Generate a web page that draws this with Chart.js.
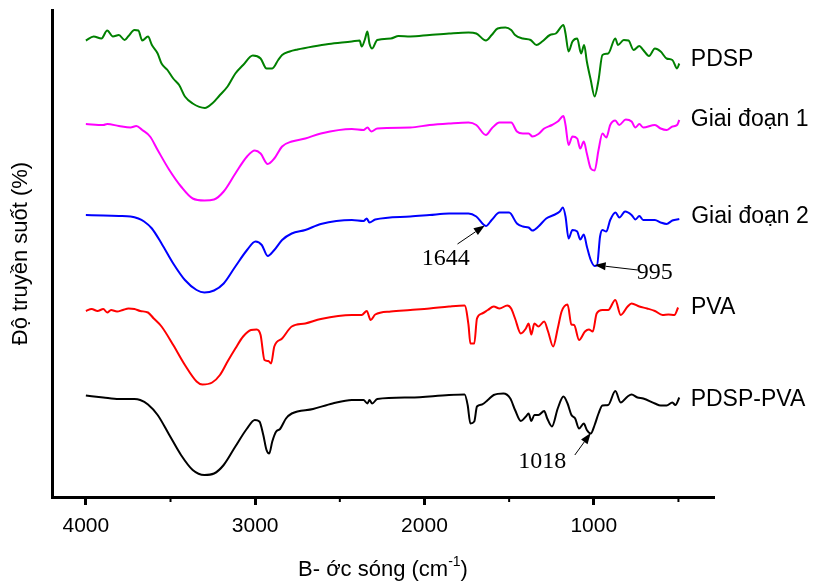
<!DOCTYPE html>
<html>
<head>
<meta charset="utf-8">
<script src="https://cdn.jsdelivr.net/npm/chart.js@4.4.1/dist/chart.umd.min.js"></script>
<style>
  body { margin: 0; background: #fff; }
  #wrap { width: 817px; height: 583px; position: relative; }
</style>
</head>
<body>
<div id="wrap"><canvas id="ftirChart"></canvas></div>
<script>
// wavenumber (cm-1) and offset transmittance
const pdspWn = [4000, 3954, 3908, 3874, 3840, 3805, 3771, 3748, 3713, 3690, 3667, 3633, 3610, 3576, 3553, 3518, 3484, 3449, 3415, 3369,
    3297, 3254, 3208, 3163, 3117, 3071, 3014, 2968, 2933, 2899, 2864, 2841, 2796, 2750, 2658, 2566, 2429, 2383, 2371, 2353,
    2337, 2325, 2309, 2279, 2199, 2153, 2084, 1970, 1855, 1740, 1694, 1637, 1603, 1568, 1522, 1488, 1465, 1419, 1373, 1339,
    1305, 1259, 1224, 1179, 1167, 1149, 1126, 1098, 1075, 1057, 1041, 1018, 995, 972, 949, 915, 873, 857, 823, 795,
    765, 731, 708, 674, 639, 605, 570, 536, 508, 495];
const pdspT = [91.3, 92.1, 91.7, 93.3, 92.1, 92.4, 91.4, 92.2, 93.4, 93.3, 91.3, 92.1, 90.4, 88.7, 86.7, 85.4, 83.7, 82.4, 80.1, 78.7,
    77.8, 78.7, 80.4, 82.1, 84.7, 86.4, 88.3, 87.7, 85.7, 85.7, 87.4, 88.4, 89.1, 89.5, 90.1, 90.6, 91.1, 91.3, 90.1, 91.4,
    93.1, 90.7, 89.7, 91.4, 91.7, 92.2, 92.1, 92.4, 92.7, 92.9, 92.7, 91.3, 92.4, 93.7, 93.9, 93.4, 92.4, 91.7, 91.4, 90.4,
    91.1, 92.4, 92.7, 94.4, 92.7, 89.1, 91.1, 91.7, 88.7, 90.4, 87.1, 83.4, 80.1, 83.4, 88.4, 88.7, 91.7, 90.4, 91.4, 91.3,
    89.4, 90.2, 89.4, 88.2, 89.7, 89.1, 87.7, 87.4, 85.7, 86.7];

const gd1Wn = [4000, 3897, 3874, 3805, 3736, 3702, 3667, 3621, 3576, 3507, 3438, 3369, 3300, 3243, 3186, 3117, 3048, 3002, 2968, 2926,
    2887, 2841, 2784, 2704, 2612, 2429, 2360, 2337, 2314, 2279, 2084, 1970, 1855, 1740, 1694, 1637, 1603, 1557, 1488, 1454,
    1419, 1385, 1362, 1327, 1293, 1247, 1213, 1179, 1167, 1149, 1126, 1098, 1080, 1059, 1041, 1018, 995, 972, 949, 926,
    903, 873, 850, 811, 777, 754, 731, 708, 639, 605, 570, 536, 508, 495];
const gd1T = [74.6, 74.4, 74.6, 74.2, 73.9, 74.2, 73.4, 72.1, 69.4, 65.4, 62.1, 59.7, 59.3, 59.5, 61.1, 64.7, 68.1, 69.3, 68.7, 66.6,
    67.7, 70.1, 71.1, 71.7, 72.7, 73.6, 73.4, 73.9, 73.1, 73.7, 73.9, 74.4, 74.7, 74.9, 74.4, 72.4, 73.7, 74.9, 74.9, 73.1,
    72.7, 72.7, 72.1, 72.6, 73.7, 74.4, 75.1, 76.2, 74.4, 70.4, 72.1, 71.7, 69.7, 71.1, 68.7, 65.7, 65.3, 69.4, 72.7, 71.9,
    74.4, 75.3, 74.4, 75.5, 75.1, 73.9, 74.6, 73.9, 74.4, 73.7, 73.4, 74.1, 74.4, 75.4];

const gd2Wn = [4000, 3897, 3805, 3736, 3690, 3656, 3610, 3553, 3484, 3415, 3346, 3300, 3243, 3186, 3117, 3048, 2998, 2961, 2926, 2887,
    2841, 2784, 2704, 2612, 2429, 2360, 2341, 2325, 2291, 2084, 1970, 1855, 1740, 1694, 1637, 1603, 1557, 1500, 1454, 1419,
    1385, 1362, 1327, 1281, 1236, 1201, 1183, 1167, 1149, 1126, 1098, 1080, 1059, 1041, 1018, 995, 981, 963, 949, 926,
    903, 872, 849, 815, 777, 754, 731, 708, 639, 605, 570, 536, 495];
const gd2T = [56.4, 56.3, 56.2, 56.1, 55.7, 55.1, 53.7, 50.7, 46.7, 43.4, 41.4, 40.9, 41.3, 42.7, 46.1, 49.4, 51.1, 50.4, 48.2, 49.4,
    51.4, 52.7, 53.4, 54.6, 55.4, 55.2, 55.7, 54.9, 55.5, 56.1, 56.4, 56.7, 56.7, 56.1, 54.2, 55.4, 56.9, 56.9, 54.7, 54.1,
    53.9, 53.3, 54.1, 55.7, 56.4, 57.1, 57.9, 56.1, 51.7, 53.4, 53.1, 51.5, 52.5, 50.1, 47.4, 46.2, 46.3, 52.1, 53.4, 53.1,
    55.4, 56.9, 55.9, 57.1, 56.4, 55.5, 56.2, 55.4, 55.4, 54.9, 54.6, 55.3, 55.6];

const pvaWn = [4000, 3966, 3931, 3897, 3874, 3851, 3816, 3782, 3748, 3713, 3679, 3633, 3599, 3553, 3484, 3415, 3346, 3312, 3254, 3208,
    3163, 3117, 3071, 3025, 2991, 2968, 2945, 2922, 2906, 2887, 2841, 2784, 2704, 2612, 2429, 2371, 2341, 2318, 2291, 2199,
    2084, 1970, 1855, 1763, 1740, 1729, 1706, 1690, 1660, 1626, 1591, 1557, 1511, 1488, 1465, 1431, 1401, 1385, 1369, 1351,
    1327, 1293, 1270, 1240, 1213, 1190, 1155, 1132, 1116, 1087, 1052, 1029, 1006, 983, 949, 915, 873, 841, 800, 777,
    731, 685, 639, 594, 559, 524, 502];
const pvaT = [37.2, 37.6, 37.2, 37.6, 36.9, 37.4, 37.1, 37.4, 37.7, 37.6, 37.2, 36.9, 35.7, 34.1, 30.4, 26.4, 23.1, 22.5, 22.9, 24.4,
    27.1, 29.7, 32.1, 33.4, 33.5, 32.4, 27.4, 27.2, 26.7, 30.1, 31.7, 34.1, 34.7, 35.6, 36.4, 36.4, 37.2, 35.4, 36.5, 37.1,
    37.4, 37.7, 38.1, 38.3, 34.4, 30.7, 30.7, 35.7, 36.7, 37.4, 38.1, 37.7, 38.3, 37.7, 35.7, 32.7, 33.7, 34.7, 32.5, 34.7,
    34.1, 35.1, 33.1, 30.1, 33.7, 37.1, 38.5, 34.5, 34.4, 31.4, 33.1, 33.5, 33.1, 36.7, 37.4, 37.4, 39.4, 36.4, 38.1, 38.7,
    38.1, 37.7, 37.2, 36.4, 36.5, 36.4, 37.9];

const blendWn = [4000, 3897, 3805, 3713, 3679, 3633, 3576, 3507, 3438, 3369, 3300, 3243, 3186, 3117, 3048, 3002, 2975, 2952, 2933, 2917,
    2899, 2876, 2853, 2818, 2784, 2658, 2543, 2429, 2360, 2337, 2325, 2309, 2279, 2084, 1855, 1763, 1745, 1729, 1706, 1690,
    1660, 1626, 1591, 1534, 1493, 1465, 1431, 1401, 1385, 1369, 1351, 1327, 1293, 1275, 1247, 1213, 1179, 1155, 1132, 1110,
    1087, 1059, 1041, 1018, 995, 972, 949, 915, 873, 841, 800, 777, 742, 708, 639, 605, 570, 536, 518, 495];
const blendT = [20.3, 19.9, 19.6, 19.6, 19.4, 18.5, 16.4, 12.4, 8.4, 5.4, 4.4, 4.7, 6.4, 10.1, 13.7, 15.4, 15.1, 12.4, 9.4, 8.7,
    11.1, 13.1, 13.6, 15.7, 16.7, 17.6, 18.7, 19.4, 19.4, 18.7, 19.4, 18.7, 19.6, 19.9, 20.4, 20.5, 18.4, 14.7, 15.1, 18.1,
    18.5, 19.4, 20.4, 20.7, 19.7, 17.4, 15.2, 16.1, 16.7, 15.2, 16.4, 16.4, 17.2, 15.7, 14.1, 17.7, 20.1, 18.7, 16.4, 15.7,
    13.7, 14.7, 13.4, 12.7, 14.4, 16.7, 18.3, 18.4, 21.2, 18.9, 20.1, 20.5, 19.9, 19.7, 18.7, 18.3, 18.3, 18.9, 18.4, 19.9];

const seriesNames = ['PDSP', 'Giai đoạn 1', 'Giai đoạn 2', 'PVA', 'PDSP-PVA'];
const seriesColors = ['#008000', '#ff00ff', '#0000ff', '#ff0000', '#000000'];
const xTicks = [4000, 3500, 3000, 2500, 2000, 1500, 1000, 500];

const seriesData = [
    [pdspWn, pdspT], [gd1Wn, gd1T], [gd2Wn, gd2T], [pvaWn, pvaT], [blendWn, blendT]
];

// names drawn beside the right end of each trace (wavenumber, level)
const nameSpots = [[427, 87.4], [427, 75.4], [425, 56], [426, 37.8], [428, 19.4]];

// peak callouts: text, arrow tip, arrow tail, text centre (all in data units)
const callouts = [
    { text: '1644', tip: [1644, 54.3], tail: [1805, 50.6], at: [1875, 47.6] },
    { text: '995', tip: [995, 46.4], tail: [740, 45.4], at: [640, 44.8] },
    { text: '1018', tip: [1018, 12.8], tail: [1112, 8.4], at: [1305, 7.0] }
];

const sans = "'Liberation Sans', Arial, sans-serif";
const serif = "'Liberation Serif', 'Times New Roman', serif";

const decorPlugin = {
    id: 'decor',
    afterDraw(chart) {
        const ctx = chart.ctx;
        const xs = chart.scales.x, ys = chart.scales.y;
        const area = chart.chartArea;
        ctx.save();

        // short minor ticks
        ctx.strokeStyle = '#000';
        ctx.lineWidth = 2;
        xTicks.filter(v => v % 1000 !== 0).forEach(v => {
            const px = xs.getPixelForValue(v);
            ctx.beginPath();
            ctx.moveTo(px, area.bottom);
            ctx.lineTo(px, area.bottom + 5);
            ctx.stroke();
        });

        // series names
        ctx.font = '23px ' + sans;
        ctx.fillStyle = '#000';
        ctx.textBaseline = 'middle';
        ctx.textAlign = 'left';
        seriesNames.forEach((name, i) => {
            ctx.fillText(name, xs.getPixelForValue(nameSpots[i][0]), ys.getPixelForValue(nameSpots[i][1]));
        });

        // callouts with arrows
        ctx.font = '24px ' + serif;
        ctx.textAlign = 'center';
        callouts.forEach(c => {
            const tx = xs.getPixelForValue(c.tip[0]), ty = ys.getPixelForValue(c.tip[1]);
            const sx = xs.getPixelForValue(c.tail[0]), sy = ys.getPixelForValue(c.tail[1]);
            const ang = Math.atan2(ty - sy, tx - sx);
            const hl = 11, hw = 4;
            const bx = tx - hl * Math.cos(ang), by = ty - hl * Math.sin(ang);
            ctx.lineWidth = 1;
            ctx.beginPath();
            ctx.moveTo(sx, sy);
            ctx.lineTo(bx, by);
            ctx.stroke();
            ctx.beginPath();
            ctx.moveTo(tx, ty);
            ctx.lineTo(bx + hw * Math.sin(ang), by - hw * Math.cos(ang));
            ctx.lineTo(bx - hw * Math.sin(ang), by + hw * Math.cos(ang));
            ctx.closePath();
            ctx.fill();
            ctx.fillText(c.text, xs.getPixelForValue(c.at[0]), ys.getPixelForValue(c.at[1]));
        });

        // x axis title with superscript
        const cx = (area.left + area.right) / 2;
        const cy = 570;
        const big = '22px ' + sans, small = '14px ' + sans;
        const p1 = 'B- ớc sóng (cm', p2 = '-1', p3 = ')';
        ctx.font = big;
        const w1 = ctx.measureText(p1).width, w3 = ctx.measureText(p3).width;
        ctx.font = small;
        const w2 = ctx.measureText(p2).width;
        let x0 = cx - (w1 + w2 + w3) / 2;
        ctx.textAlign = 'left';
        ctx.textBaseline = 'middle';
        ctx.font = big;
        ctx.fillText(p1, x0, cy);
        ctx.font = small;
        ctx.fillText(p2, x0 + w1, cy - 8);
        ctx.font = big;
        ctx.fillText(p3, x0 + w1 + w2, cy);
        ctx.restore();
    }
};

new Chart(document.getElementById('ftirChart').getContext('2d'), {
    type: 'line',
    data: {
        datasets: seriesData.map((s, i) => ({
            label: seriesNames[i],
            data: s[0].map((w, j) => ({ x: w, y: s[1][j] })),
            borderColor: seriesColors[i],
            borderWidth: 2,
            pointRadius: 0,
            fill: false,
            cubicInterpolationMode: 'monotone'
        }))
    },
    options: {
        responsive: true,
        maintainAspectRatio: false,
        animation: false,
        layout: { padding: { top: 10, right: 103, left: 0, bottom: 0 } },
        plugins: { legend: { display: false }, tooltip: { enabled: false } },
        scales: {
            x: {
                type: 'linear',
                reverse: true,
                min: 290,
                max: 4200,
                afterFit(scale) { scale.height = 86; },
                afterBuildTicks(scale) { scale.ticks = xTicks.map(v => ({ value: v })); },
                ticks: {
                    color: '#000',
                    font: { family: sans, size: 21 },
                    padding: 9,
                    maxRotation: 0,
                    autoSkip: false,
                    callback: v => (v % 1000 === 0 ? String(v) : '')
                },
                grid: {
                    display: true,
                    drawOnChartArea: false,
                    tickLength: 8,
                    tickWidth: 3,
                    tickColor: c => (c.tick && c.tick.value % 1000 === 0 ? '#000' : 'rgba(0,0,0,0)')
                },
                border: { display: true, color: '#000', width: 3 }
            },
            y: {
                type: 'linear',
                min: 0,
                max: 97.4,
                afterFit(scale) { scale.width = 52; },
                ticks: { display: false },
                grid: { display: false },
                border: { display: true, color: '#000', width: 3 },
                title: {
                    display: true,
                    text: 'Độ truyền suốt (%)',
                    color: '#000',
                    font: { family: sans, size: 22 },
                    padding: { top: 8, bottom: 0 }
                }
            }
        }
    },
    plugins: [decorPlugin]
});
</script>
</body>
</html>
